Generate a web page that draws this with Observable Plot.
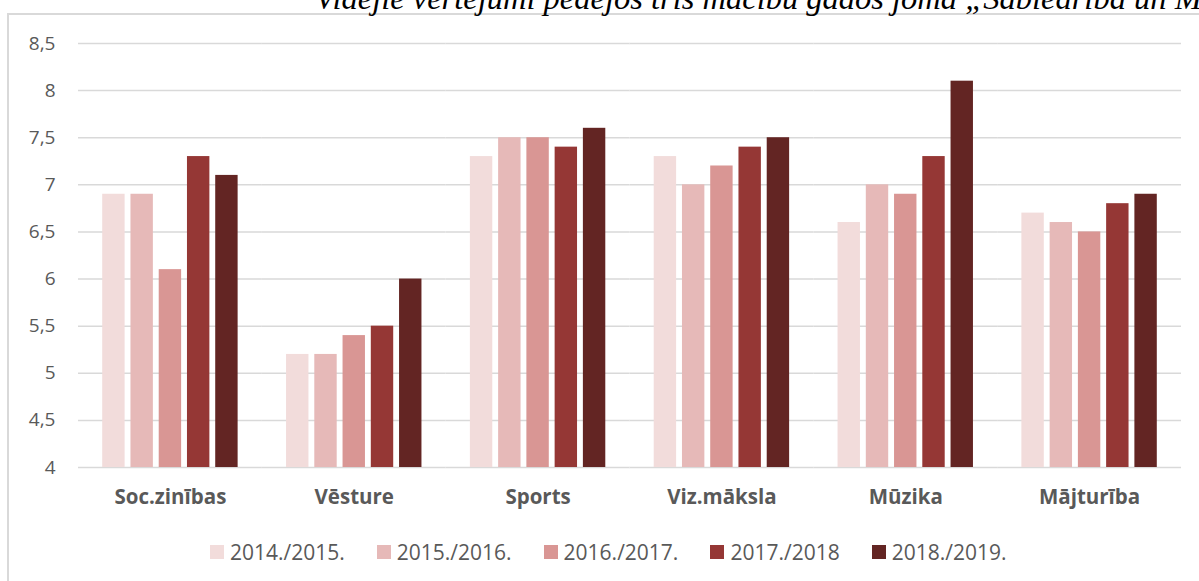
<!DOCTYPE html>
<html>
<head>
<meta charset="utf-8">
<script src="https://cdn.jsdelivr.net/npm/d3@7"></script>
<script src="https://cdn.jsdelivr.net/npm/@observablehq/plot@0.6"></script>
<style>
  html, body { margin: 0; padding: 0; background: #fff; }
  #wrap { position: relative; width: 1199px; height: 581px; overflow: hidden; background: #fff; }
  #frame { position: absolute; left: 7px; top: 13px; width: 1400px; height: 800px;
           border-left: 2px solid #d9d9d9; border-top: 2px solid #d9d9d9; }
  #title { position: absolute; left: 315px; top: -18px; white-space: nowrap;
           font-family: "Liberation Serif", "Times New Roman", serif; font-style: italic;
           font-size: 32.5px; line-height: 32px; color: #000; z-index: 3; }
  #chart { position: absolute; left: 0; top: 0; z-index: 2; }
  #chart svg { background: transparent !important; }
  [aria-label^="fx-axis"], [aria-label^="fx-axis"] text { font-weight: bold; font-size: 20.5px; }
  #legend { position: absolute; left: 210px; top: 542px; display: flex; align-items: center; gap: 32px;
            font-family: "Open Sans", sans-serif; font-size: 21px; line-height: 20px; color: #595959; z-index: 2; }
  #legend .item { display: flex; align-items: center; }
  #legend .sw { width: 14px; height: 14px; margin-right: 6px; display: inline-block; }
</style>
</head>
<body>
<div id="wrap">
  <div id="frame"></div>
  <div id="title">Vidējie vērtējumi pēdējos trīs mācību gados jomā „Sabiedrība un Māksla”</div>
  <div id="chart"></div>
  <div id="legend"></div>
</div>
<script>
const categories = ["Soc.zinības", "Vēsture", "Sports", "Viz.māksla", "Mūzika", "Mājturība"];
const years = ["2014./2015.", "2015./2016.", "2016./2017.", "2017./2018", "2018./2019."];
const v2014 = [6.9, 5.2, 7.3, 7.3, 6.6, 6.7];
const v2015 = [6.9, 5.2, 7.5, 7.0, 7.0, 6.6];
const v2016 = [6.1, 5.4, 7.5, 7.2, 6.9, 6.5];
const v2017 = [7.3, 5.5, 7.4, 7.4, 7.3, 6.8];
const v2018 = [7.1, 6.0, 7.6, 7.5, 8.1, 6.9];
const yTicks = [4, 4.5, 5, 5.5, 6, 6.5, 7, 7.5, 8, 8.5];
const yMin = 4, yMax = 8.5;
const colors = ["#F2DCDB", "#E6B9B8", "#D99694", "#953735", "#632523"];

const series = [v2014, v2015, v2016, v2017, v2018];
const data = categories.flatMap((c, i) => years.map((y, j) => ({category: c, year: y, value: series[j][i]})));

const chart = Plot.plot({
  width: 1199,
  height: 520,
  marginTop: 43,
  marginBottom: 53,
  marginLeft: 78,
  marginRight: 18,
  style: {background: "transparent", fontFamily: "'Open Sans', sans-serif", fontSize: "19px", color: "#595959", overflow: "visible"},
  fx: {domain: categories, padding: 0, round: false, label: null, axis: "bottom", tickSize: 0, tickPadding: 22},
  x: {domain: years, axis: null, paddingInner: 0.207, paddingOuter: 0.857, round: false},
  y: {domain: [yMin, yMax], ticks: yTicks, tickFormat: d => String(d).replace(".", ","), tickSize: 0, tickPadding: 23, label: null},
  color: {domain: years, range: colors},
  marks: [
    Plot.ruleY(yTicks, {stroke: "#d9d9d9", strokeWidth: 1.5}),
    Plot.barY(data, {fx: "category", x: "year", y1: () => yMin, y2: "value", fill: "year"})
  ]
});
document.getElementById("chart").appendChild(chart);

const legend = document.getElementById("legend");
years.forEach((y, i) => {
  const item = document.createElement("div");
  item.className = "item";
  const sw = document.createElement("span");
  sw.className = "sw";
  sw.style.background = colors[i];
  const t = document.createElement("span");
  t.textContent = y;
  item.appendChild(sw);
  item.appendChild(t);
  legend.appendChild(item);
});
</script>
</body>
</html>
